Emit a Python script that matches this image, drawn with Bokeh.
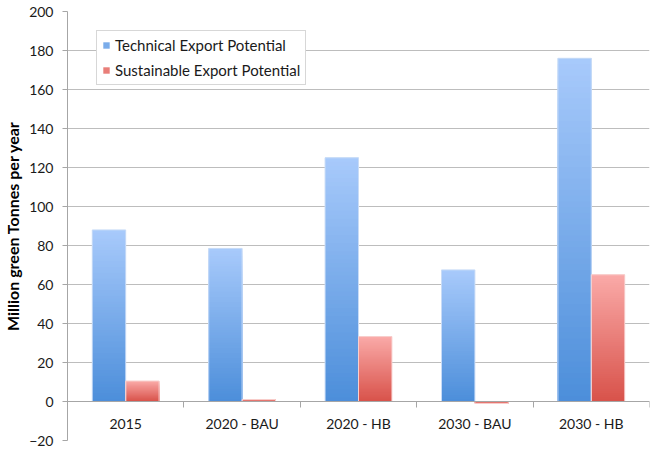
from bokeh.plotting import figure
from bokeh.models import (Range1d, LinearAxis, FixedTicker, Legend, LegendItem,
                          ColumnDataSource)
from bokeh.embed import file_html
from bokeh.resources import INLINE

categories = ["2015", "2020 - BAU", "2020 - HB", "2030 - BAU", "2030 - HB"]
technical = [88, 78.5, 125, 67.5, 176]
sustainable = [10.5, 1, 33.3, -1, 65]
y_ticks = [-20, 0, 20, 40, 60, 80, 100, 120, 140, 160, 180, 200]
series_names = ["Technical Export Potential", "Sustainable Export Potential"]

BLUE_TOP, BLUE_BOT = (168, 202, 251), (76, 142, 218)
RED_TOP, RED_BOT = (250, 170, 168), (216, 82, 74)
FONT = "Lato"
BAR_W = 0.287
N_SLICES = 60


def hexc(c):
    return "#%02x%02x%02x" % tuple(int(round(v)) for v in c)


def gradient_source(values, offset, top_c, bot_c):
    # nested quads drawn from tallest to shortest: each covers the one before,
    # leaving a thin band of its own colour -> seamless vertical gradient
    left, right, bottom, top, color = [], [], [], [], []
    for i, v in enumerate(values):
        x0 = i + offset
        for k in range(N_SLICES - 1, -1, -1):
            t = (k + 0.5) / N_SLICES
            left.append(x0)
            right.append(x0 + BAR_W)
            bottom.append(0)
            top.append(v * (k + 1) / N_SLICES)
            color.append(hexc([b + (a - b) * t for a, b in zip(top_c, bot_c)]))
    return ColumnDataSource(dict(left=left, right=right, bottom=bottom, top=top, color=color))


p = figure(width=654, height=448, x_range=Range1d(-0.5, 4.5), y_range=Range1d(-20, 200),
           output_backend="svg", toolbar_location=None, x_axis_location=None,
           min_border_left=57, min_border_right=5, min_border_top=11, min_border_bottom=8)
p.outline_line_color = None
p.background_fill_color = "white"
p.xgrid.visible = False

# y axis / grid
yax = p.yaxis[0]
yax.ticker = FixedTicker(ticks=y_ticks)
yax.axis_line_color = "#a6a6a6"
yax.major_tick_line_color = "#a6a6a6"
yax.major_tick_out = 5
yax.major_tick_in = 0
yax.minor_tick_line_color = None
yax.major_label_text_font = FONT
yax.major_label_text_font_size = "14px"
yax.major_label_text_color = "#1a1a1a"
yax.major_label_standoff = 9
yax.axis_label = "Million green Tonnes per year"
yax.axis_label_text_font = FONT
yax.axis_label_text_font_style = "bold"
yax.axis_label_text_font_size = "16px"
yax.axis_label_text_color = "#000000"
yax.axis_label_standoff = 4
p.ygrid.ticker = FixedTicker(ticks=y_ticks)
p.ygrid.grid_line_color = "#bdbdbd"

xs = list(range(len(categories)))
# solid base bars (also used for the legend swatches)
mid_blue = hexc([(a + b) / 2 for a, b in zip(BLUE_TOP, BLUE_BOT)])
mid_red = hexc([(a + b) / 2 for a, b in zip(RED_TOP, RED_BOT)])
r_b = p.vbar(x=[i - BAR_W / 2 for i in xs], top=technical, bottom=0, width=BAR_W,
             fill_color=mid_blue, line_color=None)
r_r = p.vbar(x=[i + BAR_W / 2 for i in xs], top=sustainable, bottom=0, width=BAR_W,
             fill_color=mid_red, line_color=None)

# gradient overlays
src_b = gradient_source(technical, -BAR_W, BLUE_TOP, BLUE_BOT)
src_r = gradient_source(sustainable, 0.0, RED_TOP, RED_BOT)
p.quad(left="left", right="right", bottom="bottom", top="top", fill_color="color",
       line_color=None, source=src_b)
p.quad(left="left", right="right", bottom="bottom", top="top", fill_color="color",
       line_color=None, source=src_r)
p.vbar(x=[i - BAR_W / 2 for i in xs], top=technical, bottom=0, width=BAR_W,
       fill_color=None, line_color="#c9dcf7", line_width=1)
p.vbar(x=[i + BAR_W / 2 for i in xs], top=sustainable, bottom=0, width=BAR_W,
       fill_color=None, line_color="#f8cfcd", line_width=1)

# category axis at y = 0: boundary ticks + centred labels
tick_axis = LinearAxis(ticker=FixedTicker(ticks=[i - 0.5 for i in range(len(categories) + 1)]),
                       fixed_location=0, axis_line_color="#a6a6a6",
                       major_tick_line_color="#a6a6a6", major_tick_out=6, major_tick_in=0,
                       minor_tick_line_color=None, major_label_text_color=None)
label_axis = LinearAxis(ticker=FixedTicker(ticks=xs), fixed_location=0,
                        major_label_overrides={i: c for i, c in enumerate(categories)},
                        axis_line_color=None, major_tick_line_color=None,
                        minor_tick_line_color=None, major_label_standoff=7,
                        major_label_text_font=FONT, major_label_text_font_size="14px",
                        major_label_text_color="#1a1a1a")
p.add_layout(tick_axis, "below")
p.add_layout(label_axis, "below")

# legend
legend = Legend(items=[LegendItem(label=series_names[0], renderers=[r_b]),
                       LegendItem(label=series_names[1], renderers=[r_r])],
                location=(29, 355), border_line_color="#b0b0b0", border_line_width=1,
                background_fill_color="white", background_fill_alpha=1,
                padding=5, spacing=7, margin=0, glyph_width=8, glyph_height=8,
                label_standoff=5, label_height=18, label_text_font=FONT,
                label_text_font_size="15px", label_text_color="#1a1a1a")
p.add_layout(legend, "center")

open("out.html", "w").write(file_html(p, INLINE))
